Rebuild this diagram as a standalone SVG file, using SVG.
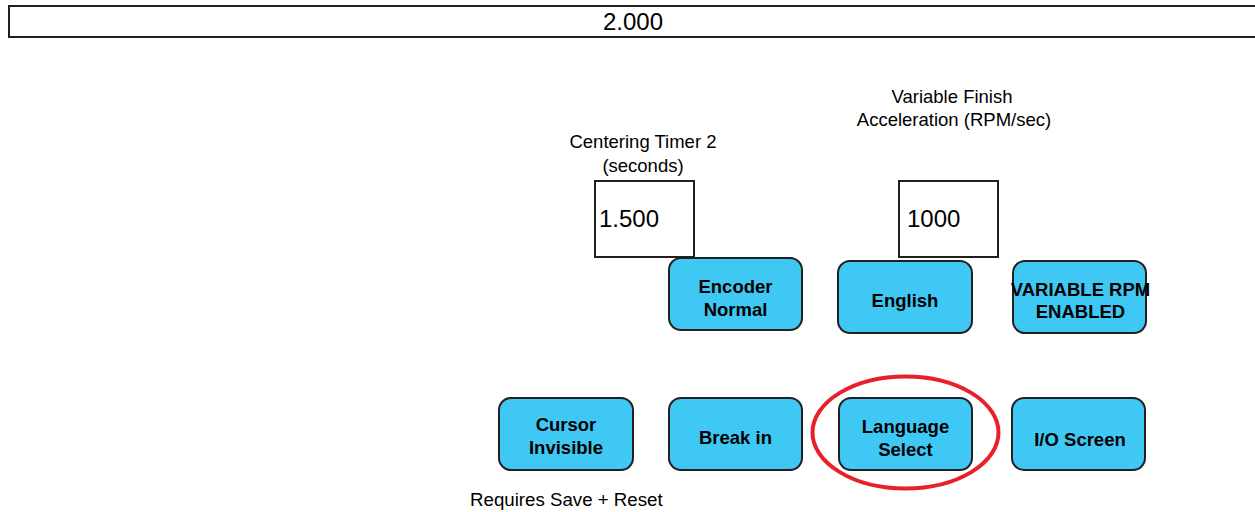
<svg xmlns="http://www.w3.org/2000/svg" width="1255" height="512" viewBox="0 0 1255 512">
<style>
text{font-family:"Liberation Sans",Arial,sans-serif;fill:#000}
.btn rect{fill:#40c8f4;stroke:#231f20;stroke-width:2}
.btn text{font-weight:bold;font-size:18.5px;text-anchor:middle}
.val rect{fill:#fff;stroke:#231f20;stroke-width:2}
.val text{font-size:24px}
.lbl{font-size:18.5px;text-anchor:middle}
</style>
<rect width="1255" height="512" fill="#fff"/>
<g id="top">
<rect x="9" y="6" width="1250" height="31" fill="#fff" stroke="#231f20" stroke-width="2"/>
<text x="633" y="30" font-size="24" text-anchor="middle">2.000</text>
</g>
<g id="lbl-centering"><text class="lbl" x="643" y="148">Centering Timer 2</text><text class="lbl" x="643" y="172">(seconds)</text></g>
<g id="lbl-accel"><text class="lbl" x="952" y="103">Variable Finish</text><text class="lbl" x="954" y="126">Acceleration (RPM/sec)</text></g>
<g id="val-1500" class="val"><rect x="595" y="181" width="99" height="76"/><text x="599" y="227">1.500</text></g>
<g id="val-1000" class="val"><rect x="899" y="181" width="99" height="76"/><text x="907" y="227">1000</text></g>
<g id="encoder" class="btn"><rect x="669" y="258" width="133" height="72" rx="12"/><text x="735.5" y="293">Encoder</text><text x="735.5" y="316">Normal</text></g>
<g id="english" class="btn"><rect x="838" y="261" width="134" height="72" rx="12"/><text x="905" y="307">English</text></g>
<g id="varrpm" class="btn"><rect x="1013" y="261" width="133" height="72" rx="12"/><text x="1080.5" y="296" font-size="16.9">VARIABLE RPM</text><text x="1080.5" y="318" font-size="16.9">ENABLED</text></g>
<g id="cursor" class="btn"><rect x="499" y="398" width="134" height="72" rx="12"/><text x="566" y="431">Cursor</text><text x="566" y="454">Invisible</text></g>
<g id="breakin" class="btn"><rect x="669" y="398" width="133" height="72" rx="12"/><text x="735.5" y="444">Break in</text></g>
<g id="language" class="btn"><rect x="839" y="398" width="133" height="72" rx="12"/><text x="905.5" y="433">Language</text><text x="905.5" y="456">Select</text></g>
<g id="io" class="btn"><rect x="1012" y="398" width="133" height="72" rx="12"/><text x="1080" y="446">I/O Screen</text></g>
<g id="highlight"><ellipse cx="905.5" cy="432.5" rx="93" ry="56" fill="none" stroke="#e8202a" stroke-width="4"/></g>
<g id="note"><text x="470" y="506" font-size="18.7">Requires Save + Reset</text></g>
<g id="connectors"/>
</svg>
